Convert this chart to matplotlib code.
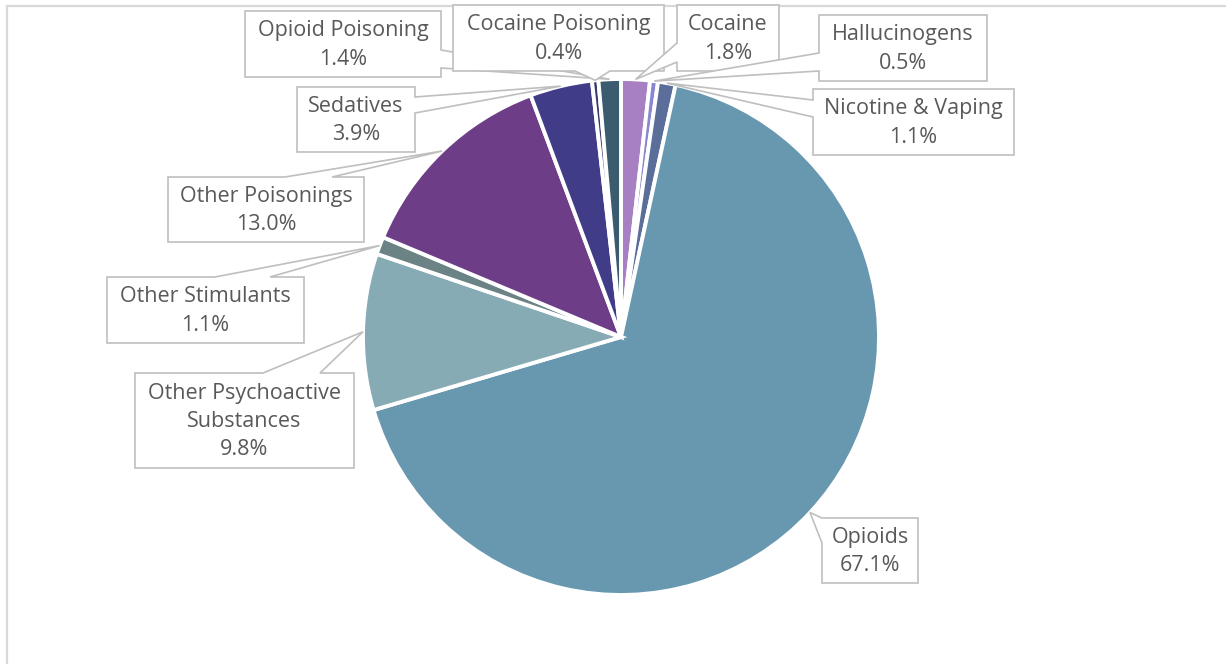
import numpy as np
import matplotlib
matplotlib.use("Agg")
import matplotlib.pyplot as plt
from matplotlib.patches import Polygon
from matplotlib.lines import Line2D

# Share of visits by substance category (clockwise from 12 o'clock)
categories = ["Cocaine", "Hallucinogens", "Nicotine & Vaping", "Opioids",
              "Other Psychoactive\nSubstances", "Other Stimulants",
              "Other Poisonings", "Sedatives", "Cocaine Poisoning",
              "Opioid Poisoning"]
shares = [1.8, 0.5, 1.1, 67.1, 9.8, 1.1, 13.0, 3.9, 0.4, 1.4]
colors = ["#A77FC3", "#8A86CF", "#5B6E99", "#6897B0", "#86ABB5",
          "#6B8385", "#6D3E87", "#413C87", "#363B6C", "#3B5C6E"]

W, H = 1226, 664
CX, CY, R = 621, 337, 258

# Callout boxes (x0, y0, x1, y1), side of the pointer, and pointer base span
callouts = {
    "Cocaine":            ((677, 5, 779, 71), "left", (43, 62)),
    "Hallucinogens":      ((819, 15, 987, 81), "left", (53, 71)),
    "Nicotine & Vaping":  ((813, 89, 1014, 155), "left", (100, 117)),
    "Opioids":            ((822, 518, 918, 583), "left", (518, 543)),
    "Other Psychoactive\nSubstances": ((135, 373, 354, 468), "top", (263, 320)),
    "Other Stimulants":   ((107, 277, 304, 343), "top", (215, 270)),
    "Other Poisonings":   ((168, 177, 364, 242), "top", (285, 332)),
    "Sedatives":          ((297, 87, 415, 152), "right", (97, 113)),
    "Cocaine Poisoning":  ((453, 5, 664, 71), "bottom", (575, 610)),
    "Opioid Poisoning":   ((245, 11, 441, 77), "right", (50, 68)),
}
draw_order = ["Opioid Poisoning", "Cocaine Poisoning", "Cocaine", "Hallucinogens",
              "Nicotine & Vaping", "Sedatives", "Other Poisonings",
              "Other Stimulants", "Other Psychoactive\nSubstances", "Opioids"]

fig = plt.figure(figsize=(W / 100, H / 100), dpi=100)
ax = fig.add_axes([0, 0, 1, 1])

# y axis runs downward, so counterclock=True reads clockwise on screen
ax.pie(shares, colors=colors, startangle=-90, counterclock=True,
       center=(CX, CY), radius=R,
       wedgeprops=dict(edgecolor="white", linewidth=2.8))
ax.set_xlim(0, W)
ax.set_ylim(H, 0)
ax.set_aspect("equal")
ax.axis("off")

# Chart area frame
ax.add_line(Line2D([6.5, 6.5], [H, 5.5], color="#D9D9D9", lw=1.6))
ax.add_line(Line2D([6.5, W], [5.5, 5.5], color="#D9D9D9", lw=1.6))

total = sum(shares)
cum = np.cumsum([0] + shares[:-1]) / total
mids = {c: (cum[i] + shares[i] / total / 2) * 2 * np.pi for i, c in enumerate(categories)}
values = dict(zip(categories, shares))


def callout_vertices(box, side, span, tip):
    x0, y0, x1, y1 = box
    a, b = span
    if side == "top":
        return [(x0, y0), (a, y0), tip, (b, y0), (x1, y0), (x1, y1), (x0, y1)]
    if side == "right":
        return [(x0, y0), (x1, y0), (x1, a), tip, (x1, b), (x1, y1), (x0, y1)]
    if side == "bottom":
        return [(x0, y0), (x1, y0), (x1, y1), (b, y1), tip, (a, y1), (x0, y1)]
    return [(x0, y0), (x1, y0), (x1, y1), (x0, y1), (x0, b), tip, (x0, a)]


for k, cat in enumerate(draw_order):
    box, side, span = callouts[cat]
    th = mids[cat]
    tip = (CX + R * np.sin(th), CY - R * np.cos(th))
    poly = Polygon(callout_vertices(box, side, span, tip), closed=True,
                   facecolor="white", edgecolor="#BFBFBF", lw=1.2,
                   zorder=5 + 2 * k)
    ax.add_patch(poly)
    x0, y0, x1, y1 = box
    ax.text((x0 + x1) / 2, (y0 + y1) / 2 + 1, f"{cat}\n{values[cat]:.1f}%",
            ha="center", va="center", fontsize=15.5, color="#595959",
            family="Open Sans", linespacing=1.45, zorder=6 + 2 * k)

fig.savefig("out.png", dpi=100, facecolor="white")
